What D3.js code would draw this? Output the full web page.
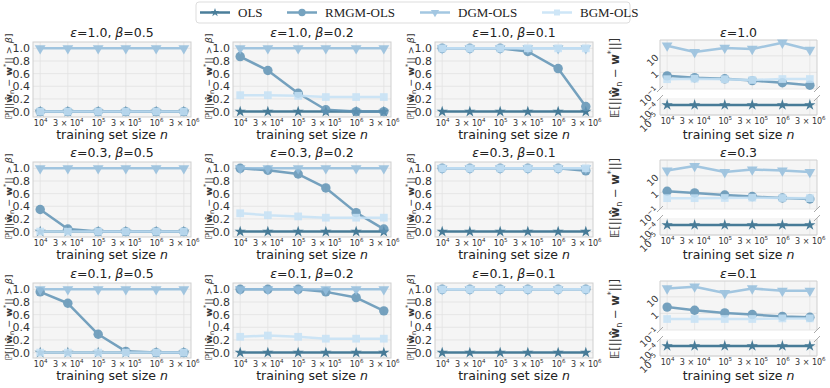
<!DOCTYPE html>
<html>
<head>
<meta charset="utf-8">
<title>Estimator comparison</title>
<script src="https://cdn.jsdelivr.net/npm/d3@7"></script>
<style>
body { margin: 0; background: #fff; }
svg text { font-family: "DejaVu Sans", sans-serif; }
</style>
</head>
<body>
<svg id="chart" width="830" height="388"></svg>
<script>
// ---- data ----
var sizes = [1e4, 3e4, 1e5, 3e5, 1e6, 3e6];
var sizeLabels = ["10^4", "3 × 10^4", "10^5", "3 × 10^5", "10^6", "3 × 10^6"];
var seriesNames = ["OLS", "RMGM-OLS", "DGM-OLS", "BGM-OLS"];
var epsilons = ["1.0", "0.3", "0.1"];
var betas = ["0.5", "0.2", "0.1"];
var probTicks = [0, 0.2, 0.4, 0.6, 0.8, 1.0];
var errTicksHigh = [0.1, 1, 10];
var errTickLabelsHigh = ["10^−1", "1", "10"];
var errTicksLow = [1e-5, 1e-4];
var errTickLabelsLow = ["10^−5", "10^−4"];

// P[||w_n - w*|| > beta], [epsilon row][beta col][size]
var olsProb = [
  [[0, 0, 0, 0, 0, 0], [0, 0, 0, 0, 0, 0], [0, 0, 0, 0, 0, 0]],
  [[0, 0, 0, 0, 0, 0], [0, 0, 0, 0, 0, 0], [0, 0, 0, 0, 0, 0]],
  [[0, 0, 0, 0, 0, 0], [0, 0, 0, 0, 0, 0], [0, 0, 0, 0, 0, 0]]
];
var rmgmProb = [
  [[0, 0, 0, 0, 0, 0], [0.87, 0.65, 0.29, 0.03, 0, 0], [1, 1, 1, 0.95, 0.68, 0.08]],
  [[0.35, 0.04, 0, 0, 0, 0], [1, 0.97, 0.91, 0.69, 0.30, 0.04], [1, 1, 1, 1, 1, 0.96]],
  [[0.96, 0.78, 0.29, 0.02, 0, 0], [1, 1, 1, 0.96, 0.87, 0.66], [1, 1, 1, 1, 1, 1]]
];
var dgmProb = [
  [[1, 1, 1, 1, 1, 1], [1, 1, 1, 1, 1, 1], [1, 1, 1, 1, 1, 1]],
  [[1, 1, 1, 1, 1, 1], [1, 1, 1, 1, 1, 1], [1, 1, 1, 1, 1, 1]],
  [[1, 1, 1, 1, 1, 1], [1, 1, 1, 1, 1, 1], [1, 1, 1, 1, 1, 1]]
];
var bgmProb = [
  [[0, 0, 0, 0, 0, 0], [0.26, 0.26, 0.25, 0.23, 0.23, 0.23], [1, 1, 1, 1, 1, 1]],
  [[0, 0, 0, 0, 0, 0], [0.29, 0.26, 0.24, 0.22, 0.22, 0.22], [1, 1, 1, 1, 1, 1]],
  [[0, 0, 0, 0, 0, 0], [0.25, 0.27, 0.25, 0.22, 0.22, 0.22], [1, 1, 1, 1, 1, 1]]
];

// E[||w_n - w*||], [epsilon row][size]
var olsErr = [
  [1e-4, 1e-4, 1e-4, 1e-4, 1e-4, 1e-4],
  [1e-4, 1e-4, 1e-4, 1e-4, 1e-4, 1e-4],
  [1e-4, 1e-4, 1e-4, 1e-4, 1e-4, 1e-4]
];
var rmgmErr = [
  [0.62, 0.48, 0.41, 0.32, 0.24, 0.17],
  [1.17, 0.93, 0.70, 0.56, 0.46, 0.40],
  [2.4, 1.55, 1.07, 0.85, 0.66, 0.58]
];
var dgmErr = [
  [41, 17, 30, 26, 62, 23],
  [21, 39, 17, 24, 21, 17],
  [32, 41, 17, 32, 23, 23]
];
var bgmErr = [
  [0.39, 0.42, 0.39, 0.35, 0.40, 0.40],
  [0.45, 0.45, 0.46, 0.48, 0.46, 0.45],
  [0.46, 0.46, 0.46, 0.46, 0.50, 0.50]
];

// ---- layout / style ----
var svg = d3.select("#chart");
var colors = ["#2b6889", "#5f93b5", "#94bedd", "#c6e2f6"];
var symbols = [d3.symbolStar, d3.symbolCircle, d3.symbolTriangle, d3.symbolSquare];
var symSizes = [40, 70, 50, 60];
var colLeft = [33, 233, 435], panelW = 158, rowTop = [42, 162, 283], panelH = 75;
var errLeft = 660, errW = 157;
var xLo = Math.pow(10, 3.876), xHi = Math.pow(10, 6.601);
var gridColor = "#e2e2e2", faceColor = "#f5f5f5", spineColor = "#cfcfcf", textColor = "#333";

var probLabel = [["ℙ[||", ""], ["ŵ", "b"], ["n", "sub"], [" − ", ""], ["w", "b"], ["*", "sup"], ["|| > ", ""], ["β", "i"], ["]", ""]];
var errLabel = [["𝔼[||", ""], ["ŵ", "b"], ["n", "sub"], [" − ", ""], ["w", "b"], ["*", "sup"], ["||]", ""]];
var xLabel = [["training set size ", ""], ["n", "i"]];

function richParts(t, parts, fs) {
  var shift = 0;
  parts.forEach(function(p) {
    var ts = t.append("tspan").text(p[0]);
    var target = p[1] == "sub" ? fs * 0.25 : p[1] == "sup" ? -fs * 0.4 : 0;
    if (target != shift) { ts.attr("dy", target - shift); shift = target; }
    if (p[1] == "sub" || p[1] == "sup") ts.attr("font-size", fs * 0.7);
    if (p[1] == "b") ts.attr("font-weight", "bold");
    if (p[1] == "i") ts.attr("font-style", "italic");
  });
}

function powLabel(t, s, fs) {
  var i = s.indexOf("^");
  t.text(null);
  if (i < 0) { t.text(s); return; }
  t.append("tspan").text(s.slice(0, i));
  t.append("tspan").attr("font-size", fs * 0.7).attr("dy", -fs * 0.42).text(s.slice(i + 1));
}

function drawSeries(g, x, y, vals, k) {
  var s = g.append("g").attr("opacity", 0.85);
  s.append("path")
    .datum(vals)
    .attr("fill", "none")
    .attr("stroke", colors[k])
    .attr("stroke-width", 2.5)
    .attr("stroke-linejoin", "round")
    .attr("d", d3.line().x(function(d, i) { return x(sizes[i]); }).y(function(d) { return y(d); }));
  var sym = d3.symbol().type(symbols[k]).size(symSizes[k]);
  s.selectAll(".m").data(vals).enter().append("path")
    .attr("d", sym)
    .attr("fill", colors[k])
    .attr("transform", function(d, i) {
      return "translate(" + x(sizes[i]) + "," + y(d) + ")" + (k == 2 ? " rotate(180)" : "");
    });
}

function xAxis(g, x, yPos) {
  var ax = g.append("g")
    .attr("transform", "translate(0," + yPos + ")")
    .call(d3.axisBottom(x).tickValues(sizes).tickSize(0).tickPadding(3).tickFormat(""));
  ax.select(".domain").remove();
  ax.selectAll(".tick text").each(function(d, i) { powLabel(d3.select(this), sizeLabels[i], 8); })
    .attr("font-size", 8).attr("fill", textColor).attr("font-family", "DejaVu Sans");
}

function vGrid(g, x, y0, y1) {
  g.selectAll(null).data(sizes).enter().append("line")
    .attr("x1", function(d) { return x(d); }).attr("x2", function(d) { return x(d); })
    .attr("y1", y0).attr("y2", y1)
    .attr("stroke", gridColor).attr("stroke-width", 0.8);
}

function hGrid(g, y, ticks, x0, x1) {
  g.selectAll(null).data(ticks).enter().append("line")
    .attr("x1", x0).attr("x2", x1)
    .attr("y1", function(d) { return y(d); }).attr("y2", function(d) { return y(d); })
    .attr("stroke", gridColor).attr("stroke-width", 0.8);
}

function probPanel(r, c) {
  var left = colLeft[c], top = rowTop[r];
  var g = svg.append("g");
  var x = d3.scaleLog().domain([xLo, xHi]).range([left, left + panelW]);
  var y = d3.scaleLinear().domain([-0.085, 1.1]).range([top + panelH, top]);

  g.append("rect").attr("x", left).attr("y", top).attr("width", panelW).attr("height", panelH)
    .attr("fill", faceColor);
  vGrid(g, x, top, top + panelH);
  hGrid(g, y, probTicks, left, left + panelW);
  g.append("rect").attr("x", left).attr("y", top).attr("width", panelW).attr("height", panelH)
    .attr("fill", "none").attr("stroke", spineColor);

  var ay = g.append("g").attr("transform", "translate(" + left + ",0)")
    .call(d3.axisLeft(y).tickValues(probTicks).tickSize(0).tickPadding(3).tickFormat(d3.format(".1f")));
  ay.select(".domain").remove();
  ay.selectAll(".tick text").attr("font-size", 11).attr("fill", textColor).attr("font-family", "DejaVu Sans");
  xAxis(g, x, top + panelH);

  drawSeries(g, x, y, olsProb[r][c], 0);
  drawSeries(g, x, y, rmgmProb[r][c], 1);
  drawSeries(g, x, y, dgmProb[r][c], 2);
  drawSeries(g, x, y, bgmProb[r][c], 3);

  var t = g.append("text").attr("x", left + panelW / 2).attr("y", top - 5)
    .attr("text-anchor", "middle").attr("font-size", 12.5).attr("fill", "#222");
  richParts(t, [["ε", "i"], ["=" + epsilons[r] + ", ", ""], ["β", "i"], ["=" + betas[c], ""]], 12.5);

  var xl = g.append("text").attr("x", left + panelW / 2).attr("y", top + panelH + 22)
    .attr("text-anchor", "middle").attr("font-size", 12.5).attr("fill", "#222");
  richParts(xl, xLabel, 12.5);

  var yl = g.append("text")
    .attr("transform", "translate(" + (left - 21) + "," + (top + panelH / 2 - 3) + ") rotate(-90)")
    .attr("text-anchor", "middle").attr("font-size", 9.5).attr("fill", textColor);
  richParts(yl, probLabel, 9.5);
}

function rotTicks(g, y, ticks, labels, left) {
  ticks.forEach(function(v, i) {
    var t = g.append("text")
      .attr("x", left - 3).attr("y", y(v)).attr("dy", "0.35em")
      .attr("text-anchor", "end").attr("font-size", 9.5).attr("fill", textColor)
      .attr("transform", "rotate(-45," + (left - 3) + "," + y(v) + ")");
    powLabel(t, labels[i], 9.5);
  });
}

function errPanel(r) {
  var left = errLeft, top = rowTop[r] - 2;
  var hiTop = top, hiBot = top + 49, loTop = top + 58, loBot = top + 75;
  var g = svg.append("g");
  var x = d3.scaleLog().domain([xLo, xHi]).range([left, left + errW]);
  var yHi = d3.scaleLog().domain([0.1, 90]).range([hiBot, hiTop]);
  var yLo = d3.scaleLog().domain([1e-5, 5e-4]).range([loBot, loTop]);

  [[hiTop, hiBot], [loTop, loBot]].forEach(function(b) {
    g.append("rect").attr("x", left).attr("y", b[0]).attr("width", errW).attr("height", b[1] - b[0])
      .attr("fill", faceColor);
    vGrid(g, x, b[0], b[1]);
  });
  hGrid(g, yHi, errTicksHigh, left, left + errW);
  hGrid(g, yLo, errTicksLow, left, left + errW);

  // spines: upper without bottom, lower without top
  var sp = g.append("g").attr("stroke", spineColor).attr("fill", "none");
  sp.append("path").attr("d", "M" + left + "," + hiBot + "V" + hiTop + "H" + (left + errW) + "V" + hiBot);
  sp.append("path").attr("d", "M" + left + "," + loTop + "V" + loBot + "H" + (left + errW) + "V" + loTop);
  // break marks
  [[left, hiBot], [left + errW, hiBot], [left, loTop], [left + errW, loTop]].forEach(function(p) {
    sp.append("line").attr("x1", p[0] - 3).attr("y1", p[1] + 3).attr("x2", p[0] + 3).attr("y2", p[1] - 3)
      .attr("stroke", "#aaa");
  });

  rotTicks(g, yHi, errTicksHigh, errTickLabelsHigh, left);
  rotTicks(g, yLo, errTicksLow, errTickLabelsLow, left);
  xAxis(g, x, loBot);

  drawSeries(g, x, yLo, olsErr[r], 0);
  drawSeries(g, x, yHi, rmgmErr[r], 1);
  drawSeries(g, x, yHi, dgmErr[r], 2);
  drawSeries(g, x, yHi, bgmErr[r], 3);

  var t = g.append("text").attr("x", left + errW / 2).attr("y", top - 3)
    .attr("text-anchor", "middle").attr("font-size", 12.5).attr("fill", "#222");
  richParts(t, [["ε", "i"], ["=" + epsilons[r], ""]], 12.5);

  var xl = g.append("text").attr("x", left + errW / 2).attr("y", loBot + 24)
    .attr("text-anchor", "middle").attr("font-size", 12.5).attr("fill", "#222");
  richParts(xl, xLabel, 12.5);

  var yl = g.append("text")
    .attr("transform", "translate(619," + (top + 38) + ") rotate(-90)")
    .attr("text-anchor", "middle").attr("font-size", 11.5).attr("fill", textColor);
  richParts(yl, errLabel, 11.5);
}

for (var r = 0; r < 3; r++) {
  for (var c = 0; c < 3; c++) probPanel(r, c);
  errPanel(r);
}

// ---- legend ----
var legend = svg.append("g");
legend.append("rect").attr("x", 196).attr("y", 2).attr("width", 434).attr("height", 21).attr("rx", 3)
  .attr("fill", "#fff").attr("fill-opacity", 0.85).attr("stroke", "#ddd");
var legX = [200, 287, 420, 542];
seriesNames.forEach(function(name, k) {
  var lx = legX[k];
  var e = legend.append("g").attr("opacity", 0.85);
  e.append("line").attr("x1", lx).attr("x2", lx + 30).attr("y1", 12.5).attr("y2", 12.5)
    .attr("stroke", colors[k]).attr("stroke-width", 2.5);
  e.append("path").attr("d", d3.symbol().type(symbols[k]).size(symSizes[k] * 0.6))
    .attr("fill", colors[k])
    .attr("transform", "translate(" + (lx + 15) + ",12.5)" + (k == 2 ? " rotate(180)" : ""));
  legend.append("text").attr("x", lx + 38).attr("y", 17)
    .style("font-family", "'Liberation Serif', serif")
    .attr("font-size", 13).attr("fill", "#222").text(name);
});
</script>
</body>
</html>
